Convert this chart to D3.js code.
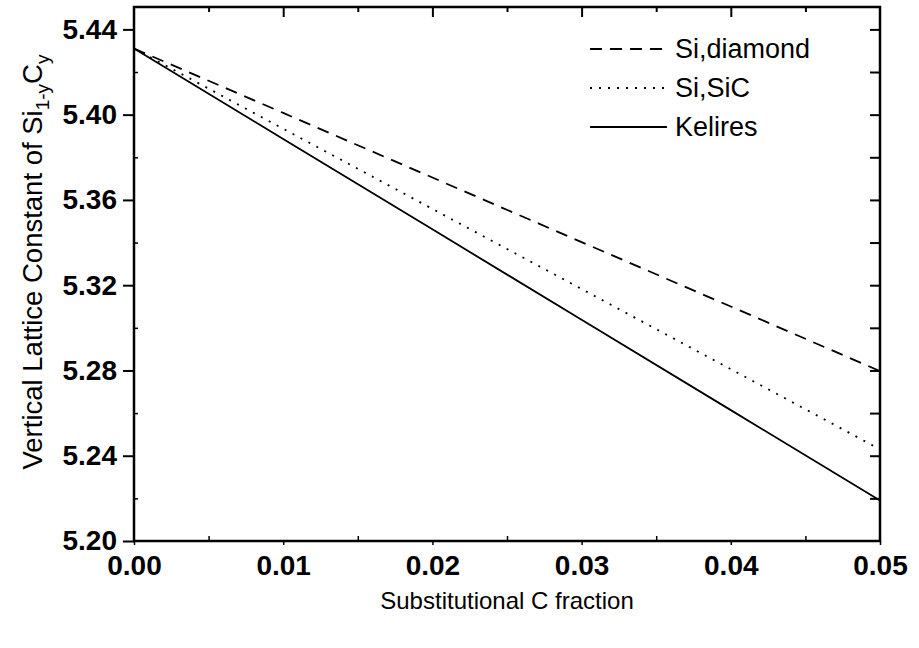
<!DOCTYPE html>
<html>
<head>
<meta charset="utf-8">
<script src="https://cdn.jsdelivr.net/npm/d3@7"></script>
<style>
  body { margin: 0; background: #fff; }
  text { font-family: "Liberation Sans", Arial, sans-serif; fill: #000; }
</style>
</head>
<body>
<div class="container"></div>
<script>
// fraction of substitutional carbon
const fraction = [0.0, 0.01, 0.02, 0.03, 0.04, 0.05];
// vertical lattice constant (Angstrom) for each model
const siDiamond = [5.431, 5.4008, 5.3705, 5.3402, 5.31, 5.2797];
const siSiC     = [5.431, 5.3934, 5.3558, 5.3182, 5.2806, 5.243];
const kelires   = [5.431, 5.3886, 5.3462, 5.3038, 5.2614, 5.219];
const seriesNames = ["Si,diamond", "Si,SiC", "Kelires"];
const xTicks = [0.00, 0.01, 0.02, 0.03, 0.04, 0.05];
const yTicks = [5.20, 5.24, 5.28, 5.32, 5.36, 5.40, 5.44];

const W = 919, H = 648;
const margin = { top: 7, right: 39, bottom: 107, left: 134 };
const width = W - margin.left - margin.right;
const height = H - margin.top - margin.bottom;

const svg = d3.select(".container")
  .append("svg")
  .attr("width", W)
  .attr("height", H);

const g = svg.append("g")
  .attr("transform", `translate(${margin.left}, ${margin.top})`);

const x = d3.scaleLinear().domain([0, 0.05]).range([0, width]);
const y = d3.scaleLinear().domain([5.2, 5.4505]).range([height, 0]);

// bottom axis: labels + outward major ticks, inward minor ticks
const xAxis = d3.axisBottom(x).tickValues(xTicks).tickFormat(d3.format(".2f")).tickSize(4).tickPadding(10);
const gx = g.append("g").attr("transform", `translate(0, ${height})`).call(xAxis);
gx.select(".domain").remove();
gx.selectAll("text").style("font-size", "28px").style("font-weight", "bold");
gx.selectAll("line").attr("stroke-width", 1.5);
g.append("g").attr("transform", `translate(0, ${height})`)
  .call(d3.axisBottom(x).tickValues(d3.range(0.005, 0.05, 0.01)).tickSize(-5).tickFormat(""))
  .call(s => s.select(".domain").remove())
  .selectAll("line").attr("stroke-width", 1.5);

// left axis
const yAxis = d3.axisLeft(y).tickValues(yTicks).tickFormat(d3.format(".2f")).tickSize(11).tickPadding(6);
const gy = g.append("g").call(yAxis);
gy.select(".domain").remove();
gy.selectAll("text").style("font-size", "28px").style("font-weight", "bold");
gy.selectAll("line").attr("stroke-width", 2);
g.append("g")
  .call(d3.axisLeft(y).tickValues(d3.range(5.22, 5.44, 0.04)).tickSize(-4).tickFormat(""))
  .call(s => s.select(".domain").remove())
  .selectAll("line").attr("stroke-width", 1.5);

// top axis: inward ticks
g.append("g")
  .call(d3.axisTop(x).tickValues(xTicks.slice(1, -1)).tickSize(-10).tickFormat(""))
  .call(s => s.select(".domain").remove())
  .selectAll("line").attr("stroke-width", 2);
g.append("g")
  .call(d3.axisTop(x).tickValues(d3.range(0.005, 0.05, 0.01)).tickSize(-5).tickFormat(""))
  .call(s => s.select(".domain").remove())
  .selectAll("line").attr("stroke-width", 2);

// right axis: inward ticks every 0.02
g.append("g").attr("transform", `translate(${width}, 0)`)
  .call(d3.axisRight(y).tickValues(d3.range(5.22, 5.45, 0.02)).tickSize(-10).tickFormat(""))
  .call(s => s.select(".domain").remove())
  .selectAll("line").attr("stroke-width", 2);

// frame
g.append("rect")
  .attr("width", width).attr("height", height)
  .attr("fill", "none").attr("stroke", "#000").attr("stroke-width", 2.5);

// series
const series = [
  { name: seriesNames[0], values: siDiamond, dash: "12,8" },
  { name: seriesNames[1], values: siSiC, dash: "2,7" },
  { name: seriesNames[2], values: kelires, dash: null }
];

const line = d3.line().x((d, i) => x(fraction[i])).y(d => y(d));

g.selectAll(".series")
  .data(series)
  .enter().append("path")
  .attr("class", "series")
  .attr("d", d => line(d.values))
  .attr("fill", "none")
  .attr("stroke", "#000")
  .attr("stroke-width", 1.8)
  .attr("stroke-dasharray", d => d.dash);

// legend
const legend = svg.append("g").attr("transform", "translate(590, 49)");
const rows = legend.selectAll(".row")
  .data(series)
  .enter().append("g")
  .attr("class", "row")
  .attr("transform", (d, i) => `translate(0, ${i * 39})`);
rows.append("line")
  .attr("x1", 0).attr("x2", 77).attr("y1", 0).attr("y2", 0)
  .attr("stroke", "#000").attr("stroke-width", 1.8)
  .attr("stroke-dasharray", d => d.dash);
rows.append("text")
  .attr("x", 85).attr("y", 9)
  .style("font-size", "27px")
  .text(d => d.name);

// axis titles
svg.append("text")
  .attr("x", margin.left + width / 2)
  .attr("y", 609)
  .attr("text-anchor", "middle")
  .style("font-size", "24px")
  .text("Substitutional C fraction");

const yt = svg.append("text")
  .attr("transform", `translate(42, 262) rotate(-90)`)
  .attr("text-anchor", "middle")
  .style("font-size", "27.5px");
yt.append("tspan").text("Vertical Lattice Constant of Si");
yt.append("tspan").attr("dy", 7).style("font-size", "19px").text("1-y");
yt.append("tspan").attr("dy", -7).text("C");
yt.append("tspan").attr("dy", 7).style("font-size", "19px").text("y");
</script>
</body>
</html>
